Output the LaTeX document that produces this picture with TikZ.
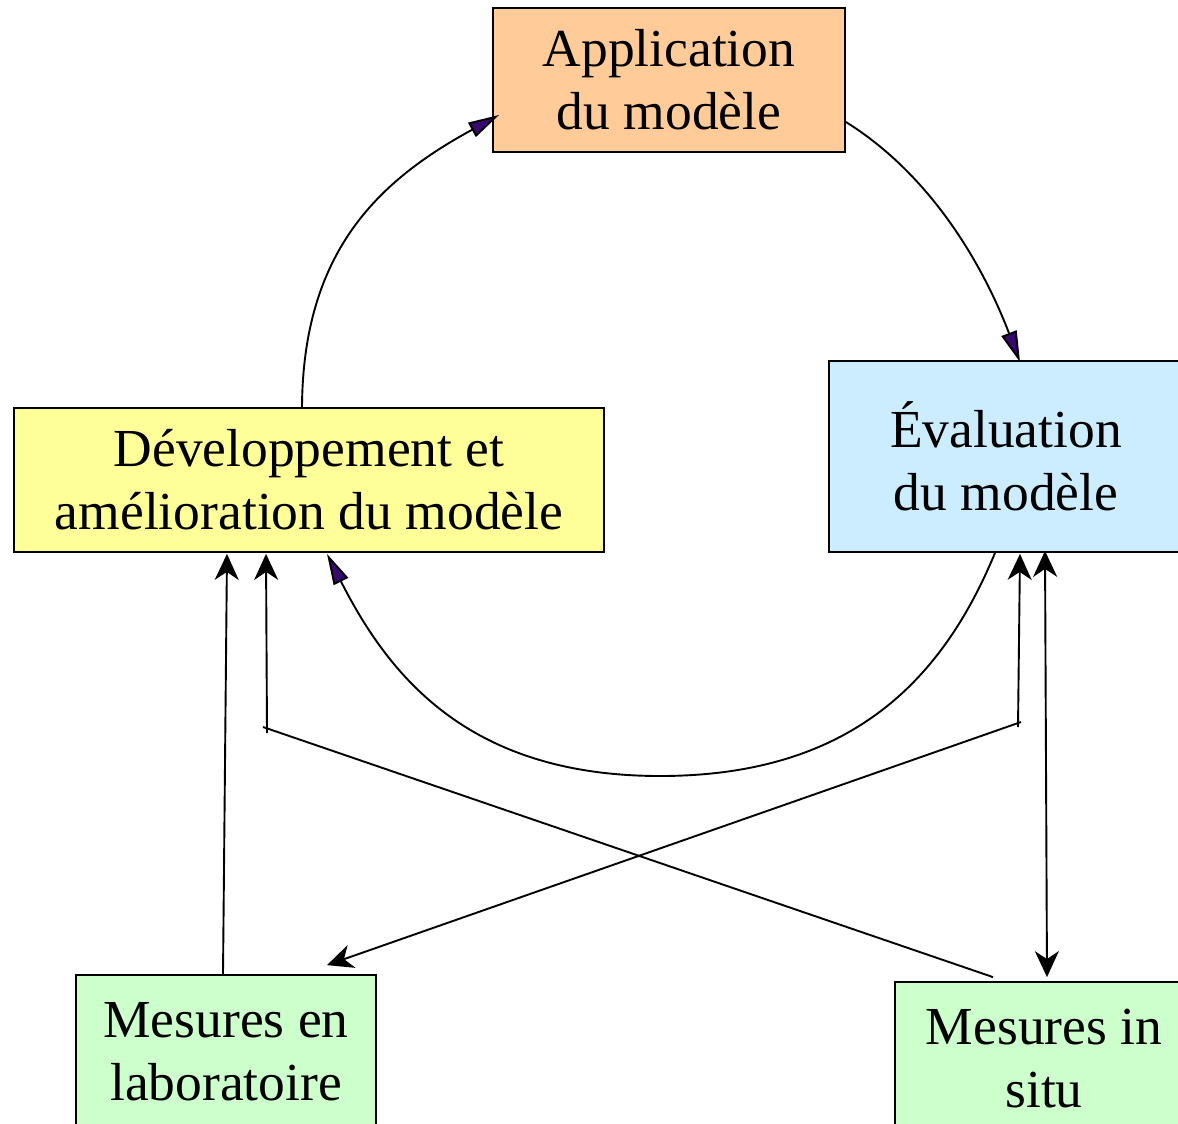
\documentclass[tikz,border=0pt]{standalone}
\usepackage{fontspec}
\setmainfont{Liberation Serif}
\usetikzlibrary{arrows.meta}
\definecolor{appfill}{RGB}{255,204,153}
\definecolor{devfill}{RGB}{255,255,153}
\definecolor{evalfill}{RGB}{204,236,255}
\definecolor{mesfill}{RGB}{204,255,204}
\definecolor{tipviolet}{RGB}{55,8,110}
\tikzset{
  box/.style={draw=black, line width=1.8pt, inner sep=0pt, align=center,
    font=\fontsize{53.5}{63}\selectfont},
  cycle/.style={line width=1.9pt, -{Triangle[length=31pt,width=16pt,fill=tipviolet]}},
  link/.style={line width=1.9pt},
  blk/.tip={Stealth[length=26pt,width=24pt,inset=8pt]}
}
\begin{document}
\begin{tikzpicture}[x=1pt,y=-1pt]
\useasboundingbox (0,0) rectangle (1178,1124);
\clip (0,0) rectangle (1178,1124);
\fill[white] (0,0) rectangle (1178,1124);

\node[box, fill=appfill, minimum width=352pt, minimum height=144pt] (app) at (669,80) {Application\\du modèle};
\node[box, fill=devfill, minimum width=590pt, minimum height=144pt] (dev) at (309,480) {Développement et\\amélioration du modèle};
\node[box, fill=evalfill, minimum width=354pt, minimum height=191pt] (eval) at (1006,456.5) {Évaluation\\du modèle};
\node[box, fill=mesfill, minimum width=300pt, minimum height=153pt] (lab) at (226,1051.5) {Mesures en\\laboratoire};
\node[box, fill=mesfill, minimum width=298pt, minimum height=153pt] (situ) at (1044,1058.5) {Mesures in\\situ};

% cycle arcs
\draw[cycle] ([xshift=-7pt]dev.north) .. controls (303,250) and (380,180) .. ([xshift=7pt,yshift=-35pt]app.west);
\draw[cycle] ([yshift=-42pt]app.east) .. controls (931,175) and (983,265) .. ([xshift=14pt,yshift=-2pt]eval.north);
\coordinate (bottom) at (660,776);
\draw[cycle] ([xshift=-11pt]eval.south) .. controls (942,681) and (850,776) .. (bottom)
  .. controls (470,776) and (390,678) .. ([xshift=18pt,yshift=-1pt]dev.south);

% junction points
\coordinate (jl1) at (263,727);
\coordinate (jl2) at (267,733);
\coordinate (jr1) at (1018,727);
\coordinate (jr2) at (1021,722);

% measurement links
\draw[link, -blk] ([xshift=-3pt]lab.north) -- ([xshift=-82pt,yshift=-1pt]dev.south);
\draw[link] ([xshift=-51pt,yshift=4pt]situ.north) -- (jl1);
\draw[link, -blk] (jl2) -- ([xshift=-43pt,yshift=-1pt]dev.south);
\draw[link, -blk] (jr1) -- ([xshift=14pt,yshift=-1pt]eval.south);
\draw[link, -blk] (jr2) -- ([xshift=101pt,yshift=9pt]lab.north);
\draw[link, blk-blk] ([xshift=39pt,yshift=2pt]eval.south) -- ([xshift=3pt,yshift=4pt]situ.north);
\end{tikzpicture}
\end{document}
